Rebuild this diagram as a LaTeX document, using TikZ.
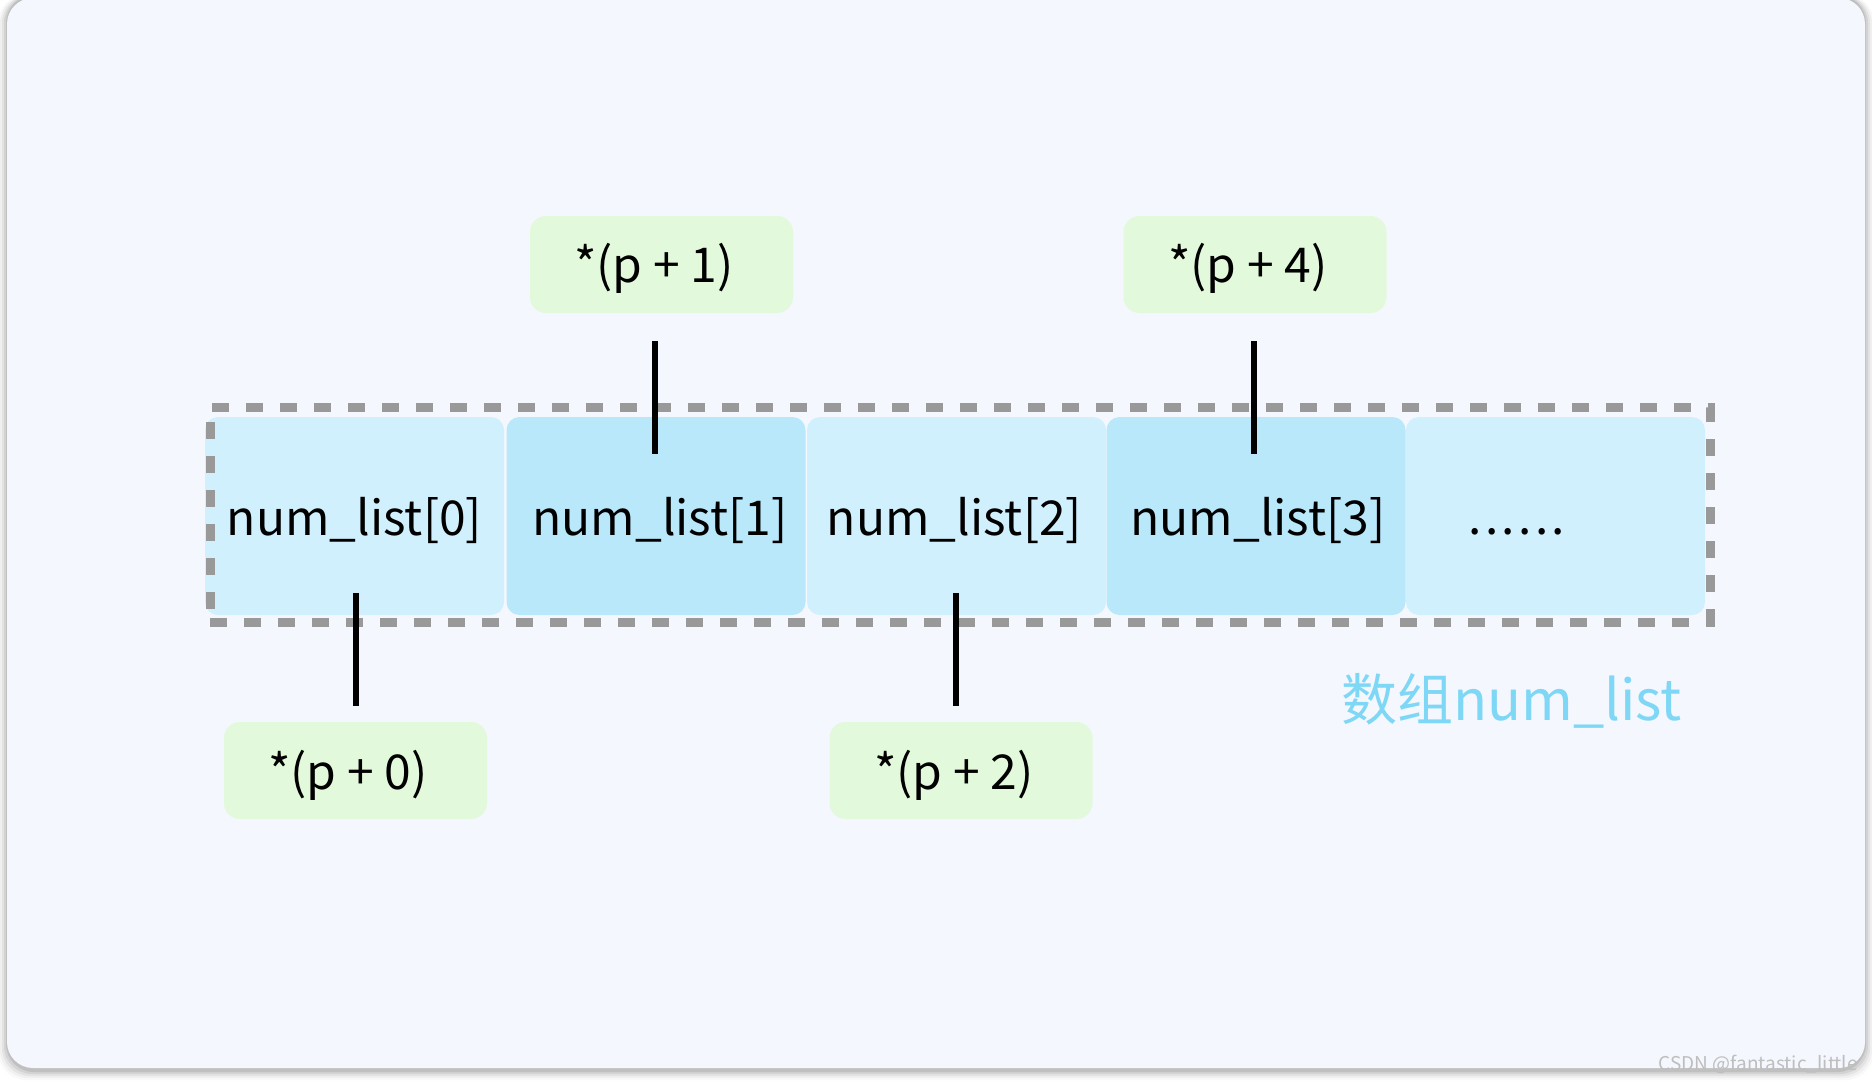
\documentclass[tikz,border=0pt]{standalone}
\usepackage{fontspec}
\setmainfont{Noto Sans CJK SC}
\definecolor{pagebg}{HTML}{FFFFFF}
\definecolor{cardbg}{HTML}{F4F7FE}
\definecolor{cellA}{HTML}{CFF0FC}
\definecolor{cellB}{HTML}{B9E8FB}
\definecolor{greenbg}{HTML}{E2FADB}
\definecolor{dashgray}{HTML}{999999}
\definecolor{labelblue}{HTML}{7DD7F5}
\definecolor{markgray}{HTML}{BEBEBE}
\tikzset{
  cellbox/.style={rounded corners=13pt, minimum width=299pt, minimum height=198pt, inner sep=0pt,
    font=\fontsize{48}{56}\selectfont, text=black},
  lightcell/.style={cellbox, fill=cellA},
  darkcell/.style={cellbox, fill=cellB},
  greenbox/.style={rounded corners=16pt, fill=greenbg, minimum width=263pt, minimum height=97pt,
    inner sep=0pt, font=\fontsize{48}{56}\selectfont, text=black},
  arraybox/.style={draw=dashgray, line width=9pt, dash pattern=on 17pt off 17pt,
    minimum width=1500pt, minimum height=215pt, inner sep=0pt},
  conn/.style={line width=6pt, black},
  txt/.style={inner sep=0pt, font=\fontsize{48}{56}\selectfont, text=black},
}
\newcommand{\dotrow}{.\kern3.3pt.\kern3.3pt.\kern3.3pt.\kern3.3pt.\kern3.3pt.}
\begin{document}
\begin{tikzpicture}[x=1pt,y=-1pt]
\useasboundingbox (0,0) rectangle (1872,1084);
\fill[pagebg] (0,0) rectangle (1872,1084);
% card shadow
\foreach \d/\o in {9/0.025,7/0.035,5/0.05,3/0.065,1/0.085}
  \fill[black, opacity=\o, rounded corners=28pt] (7-\d,-5) rectangle (1865+\d,1071+\d);
\fill[cardbg, rounded corners=26pt] (7,-2) rectangle (1865,1068);

% cells
\node[lightcell] (c0) at (354.5,516) {};
\node[darkcell]  (c1) at (656,516) {};
\node[lightcell] (c2) at (956.5,516) {};
\node[darkcell]  (c3) at (1256,516) {};
\node[lightcell] (c4) at (1555.5,516) {};
\node[txt] (t0) at (354.5,520) {num\_list[0]};
\node[txt] (t1) at (660,520) {num\_list[1]};
\node[txt] (t2) at (954.5,520) {num\_list[2]};
\node[txt] (t3) at (1258,520) {num\_list[3]};
\node[txt, anchor=base] (t4) at (1517,534) {\dotrow};

% dashed array outline
\node[arraybox] (arr) at (960,514.5) {};

% pointer boxes
\node[greenbox] (p1) at (661.5,264.5) {};
\node[greenbox] (p4) at (1255,264.5) {};
\node[greenbox] (p0) at (355.5,770.5) {};
\node[greenbox] (p2) at (961,770.5) {};
\node[txt] (q1) at (654,268) {*(p + 1)};
\node[txt] (q4) at (1248,268) {*(p + 4)};
\node[txt] (q0) at (348,775) {*(p + 0)};
\node[txt] (q2) at (954,775) {*(p + 2)};

% connector ends
\coordinate (a1) at (655,341);  \coordinate (b1) at (655,454);
\coordinate (a4) at (1254,341); \coordinate (b4) at (1254,454);
\coordinate (a0) at (356,593);  \coordinate (b0) at (356,706);
\coordinate (a2) at (956,593);  \coordinate (b2) at (956,706);
\draw[conn] (a1) -- (b1);
\draw[conn] (a4) -- (b4);
\draw[conn] (a0) -- (b0);
\draw[conn] (a2) -- (b2);

% label
\node[anchor=west, inner sep=0pt, text=labelblue, font=\fontsize{56}{62}\selectfont] (lbl) at (1341,701) {数组num\_list};

% watermark
\node[anchor=east, inner sep=0pt, text=markgray, font=\fontsize{19}{22}\selectfont] (wm) at (1858,1064) {CSDN @fantastic\_little};
\end{tikzpicture}
\end{document}
